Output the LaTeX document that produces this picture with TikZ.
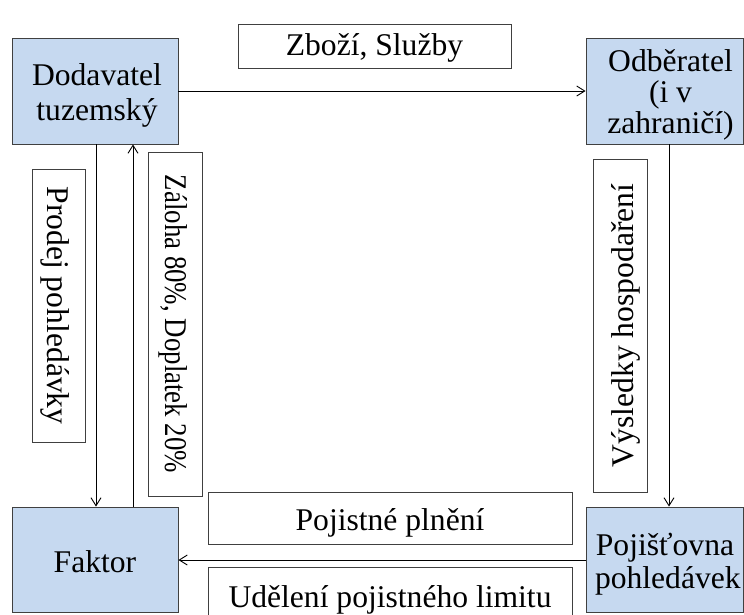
\documentclass[tikz,border=0pt]{standalone}
\usepackage{fontspec}
\setmainfont{Liberation Serif}
\usetikzlibrary{arrows.meta}
\definecolor{boxblue}{RGB}{198,217,240}
\definecolor{edgegray}{RGB}{64,64,64}
\newcommand{\mlines}[3]{\parbox[b]{#1}{\centering\fontsize{31.6}{#2}\selectfont #3}}
\tikzset{
  mainbox/.style={draw=edgegray, line width=0.9pt, fill=boxblue,
    inner sep=0pt, text depth=0pt, font=\fontsize{31.6}{36}\selectfont},
  labelbox/.style={draw=edgegray, line width=0.9pt, fill=white,
    inner sep=0pt, text depth=0pt, font=\fontsize{31.6}{36}\selectfont},
  arr/.style={line width=0.9pt, -{Straight Barb[length=8pt,width=10pt]}},
}
\begin{document}
\begin{tikzpicture}[x=1pt,y=-1pt]
\useasboundingbox (0,0) rectangle (744,614);
\clip (0,0) rectangle (744,614);
\fill[white] (0,0) rectangle (744,614);
% main boxes
\node[mainbox, minimum width=166pt, minimum height=106pt, text height=58pt] (dod) at (95,91)
  {\hspace*{4pt}\mlines{150pt}{35pt}{Dodavatel\\tuzemský}};
\node[mainbox, minimum width=157pt, minimum height=106pt, text height=84pt] (odb) at (664.5,91)
  {\hspace*{12pt}\mlines{140pt}{31pt}{Odběratel\\(i v\\zahraničí)}};
\node[mainbox, minimum width=166pt, minimum height=105pt, text height=25pt] (fak) at (95,559.5) {Faktor};
\node[mainbox, minimum width=157pt, minimum height=105pt, text height=57pt] (poj) at (664.5,559.5)
  {\hspace*{1pt}\mlines{140pt}{33pt}{Pojišťovna\\pohledávek}};
% label boxes
\node[labelbox, minimum width=273pt, minimum height=44pt, text height=18pt] (zbozi) at (374.5,46) {Zboží, Služby};
\node[labelbox, minimum width=273pt, minimum height=53pt, text height=23pt, rotate=-90] (prodej) at (58.5,305.5) {Prodej pohledávky};
\node[labelbox, minimum width=344pt, minimum height=54pt, text height=20pt, rotate=-90] (zaloha) at (175,324) {\scalebox{0.85}[1]{Záloha 80\%, Doplatek 20\%}};
\node[labelbox, minimum width=333pt, minimum height=54pt, text height=26pt, rotate=90] (vysl) at (620,325.5) {Výsledky hospodaření};
\node[labelbox, minimum width=364pt, minimum height=52pt, text height=24pt] (plneni) at (390,518) {Pojistné plnění};
\node[labelbox, minimum width=364pt, minimum height=53pt, text height=27pt] (limit) at (390,593.5) {Udělení pojistného limitu};
% helper coordinates
\coordinate (xa) at (96,0);
\coordinate (xb) at (133,0);
\coordinate (xc) at (669,0);
\coordinate (yb) at (0,560);
% connectors
\draw[arr] (dod.east) -- (odb.west);
\draw[arr] (xa |- dod.south) -- (xa |- fak.north);
\draw[arr] (xb |- fak.north) -- (xb |- dod.south);
\draw[arr] (xc |- odb.south) -- (xc |- poj.north);
\draw[arr] (poj.west |- yb) -- (fak.east |- yb);
\end{tikzpicture}
\end{document}
